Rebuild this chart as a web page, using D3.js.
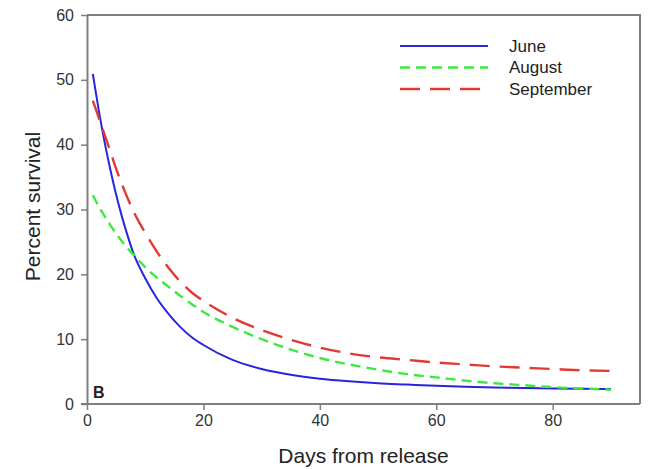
<!DOCTYPE html>
<html>
<head>
<meta charset="utf-8">
<script src="https://cdn.jsdelivr.net/npm/d3@7"></script>
<style>
  html, body { margin: 0; padding: 0; background: #ffffff; }
  svg { display: block; font-family: Arial, "Liberation Sans", sans-serif; }
</style>
</head>
<body>
<svg id="chart" width="648" height="469"></svg>
<script>
// ---- data ----
const days = [1,2,3,4,5,6,7,8,10,12,14,16,18,20,25,30,35,40,45,50,55,60,65,70,75,80,85,90];
const june = [50.9,45.4,40.5,36.2,32.3,28.9,25.9,23.2,19.4,16.3,13.9,11.9,10.3,9.1,6.8,5.4,4.5,3.9,3.5,3.2,3.0,2.8,2.65,2.55,2.45,2.4,2.35,2.3];
const august = [32.2,30.5,29.0,27.6,26.3,25.1,24.0,23.0,21.1,19.5,18.1,16.7,15.4,14.2,11.9,10.0,8.4,7.1,6.1,5.3,4.6,4.1,3.6,3.2,2.9,2.6,2.4,2.2];
const september = [46.8,44.2,41.6,39.0,36.3,33.9,31.7,29.7,26.4,23.5,21.0,18.9,17.2,15.9,13.3,11.4,9.9,8.7,7.8,7.2,6.8,6.4,6.1,5.8,5.6,5.4,5.2,5.1];
const seriesNames = ["June","August","September"];
const xTicks = [0,20,40,60,80];
const yTicks = [0,10,20,30,40,50,60];
const xTitle = "Days from release";
const yTitle = "Percent survival";
const panelLabel = "B";

// ---- layout ----
const svg = d3.select("#chart");
const L = 87, R = 640, T = 15, B = 404;
const x = d3.scaleLinear().domain([0,95]).range([L,R]);
const y = d3.scaleLinear().domain([0,60]).range([B,T]);
const axisColor = "#7f7f7f";
const styles = [
  {color:"#2626dc", dash:null, width:2},
  {color:"#3ee83e", dash:"10,6", width:2.4},
  {color:"#e23a33", dash:"20,10", width:2.4}
];
const series = [june, august, september];

// frame (top and right)
svg.append("path")
  .attr("d", `M${L},${T}H${R}V${B}`)
  .attr("fill","none").attr("stroke",axisColor).attr("stroke-width",2);

// axes
const gx = svg.append("g").attr("transform",`translate(0,${B})`)
  .call(d3.axisBottom(x).tickValues(xTicks).tickSize(6).tickSizeOuter(0).tickPadding(5));
const gy = svg.append("g").attr("transform",`translate(${L},0)`)
  .call(d3.axisLeft(y).tickValues(yTicks).tickSize(6).tickSizeOuter(0).tickPadding(7));
[gx, gy].forEach(g => {
  g.select(".domain").attr("stroke",axisColor).attr("stroke-width",2);
  g.selectAll(".tick line").attr("stroke",axisColor).attr("stroke-width",1.5);
  g.selectAll(".tick text").attr("fill","#333").style("font-size","16px")
    .style("font-family","Arial, 'Liberation Sans', sans-serif");
});
gx.select(".domain").attr("d", `M${L - 6},0H${R}`);

// lines
const line = d3.line().x((d,i)=>x(days[i])).y(d=>y(d)).curve(d3.curveMonotoneX);
series.forEach((s,k)=>{
  svg.append("path").datum(s)
    .attr("d", line)
    .attr("fill","none")
    .attr("stroke", styles[k].color)
    .attr("stroke-width", styles[k].width)
    .attr("stroke-dasharray", styles[k].dash);
});

// legend
const lg = svg.append("g");
seriesNames.forEach((n,k)=>{
  const yy = 46 + k*21.5;
  lg.append("line").attr("x1",400).attr("x2",488).attr("y1",yy).attr("y2",yy)
    .attr("stroke",styles[k].color).attr("stroke-width",styles[k].width)
    .attr("stroke-dasharray",styles[k].dash);
  lg.append("text").attr("x",509).attr("y",yy+5.5).text(n)
    .attr("fill","#222").style("font-size","17px");
});

// panel label
svg.append("text").attr("x",93).attr("y",398).text(panelLabel)
  .attr("fill","#222").style("font-size","16px").style("font-weight","bold");

// axis titles
svg.append("text").attr("x",(L+R)/2).attr("y",463).attr("text-anchor","middle")
  .text(xTitle).attr("fill","#222").style("font-size","21px");
svg.append("text").attr("transform",`translate(40,${(T+B)/2 - 3}) rotate(-90)`)
  .attr("text-anchor","middle").text(yTitle).attr("fill","#222").style("font-size","21px");
</script>
</body>
</html>
